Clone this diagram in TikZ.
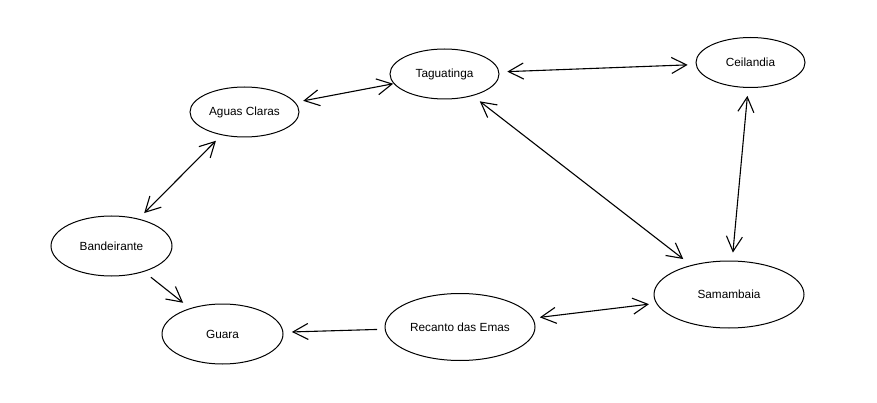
\documentclass[tikz,border=0pt]{standalone}
\usepackage{fontspec}
\setmainfont{Liberation Sans}
\usetikzlibrary{arrows.meta,shapes.geometric}
\begin{document}
\begin{tikzpicture}[x=1pt,y=-1pt,
  place/.style={ellipse,draw,line width=1pt,inner sep=0pt,outer sep=0pt,
    font=\fontsize{11.8pt}{14pt}\selectfont},
  small/.style={place,minimum width=109pt,minimum height=50pt},
  mid/.style={place,minimum width=121pt,minimum height=60pt},
  big/.style={place,minimum width=150pt,minimum height=67pt},
  link/.style={line width=1.1pt,shorten <=8.5pt,shorten >=8.5pt},
  bi/.style={link,{Straight Barb[length=15pt,width=16pt]}-{Straight Barb[length=15pt,width=16pt]}},
  uni/.style={link,-{Straight Barb[length=15pt,width=16pt]}}]
\useasboundingbox (0,0) rectangle (877,403);
\fill[white] (0,0) rectangle (877,403);
\node[small] (tag) at (444.5,74) {Taguatinga};
\node[small] (cei) at (750.5,62.5) {Ceilandia};
\node[small] (agu) at (244.5,112) {Aguas Claras};
\node[mid] (ban) at (111.5,246) {Bandeirante};
\node[mid] (gua) at (222.5,334) {Guara};
\node[big] (rec) at (460,327) {Recanto das Emas};
\node[big] (sam) at (729,294.5) {Samambaia};
\draw[bi,shorten >=1pt] (agu) -- (tag);
\draw[bi] (tag) -- (cei);
\draw[bi,shorten >=10.5pt,shorten <=9.5pt] (tag) -- (sam);
\draw[bi] (cei) -- (sam);
\draw[bi] (agu) -- (ban);
\draw[uni,shorten <=9.3pt,shorten >=9.3pt] (ban) -- (gua);
\draw[uni,shorten <=8pt,shorten >=9pt] (rec) -- (gua);
\draw[bi,shorten <=7.5pt,shorten >=7.7pt] (rec) -- (sam);
\end{tikzpicture}
\end{document}
